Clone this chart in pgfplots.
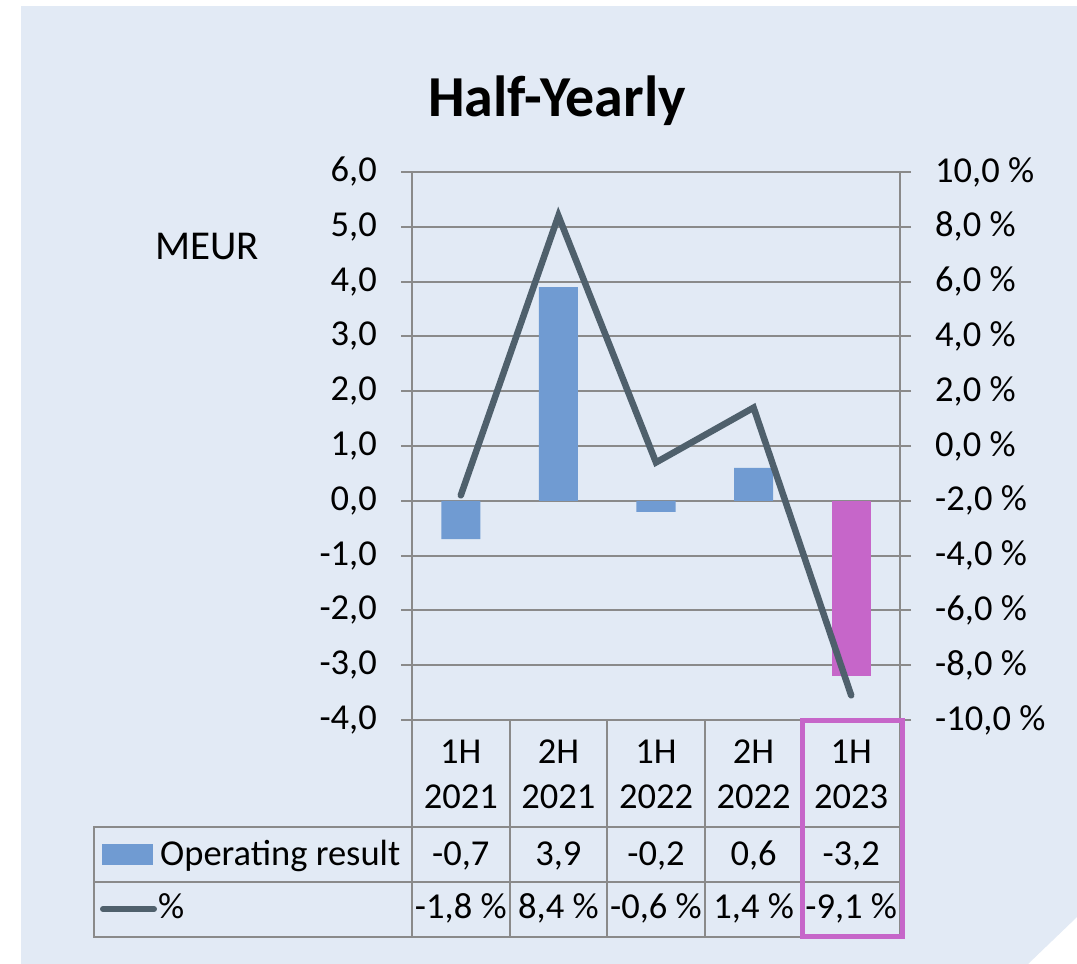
\documentclass[border=0pt]{standalone}
\usepackage{fontspec}
\setmainfont{Carlito}
\usepackage{pgfplots}
\pgfplotsset{compat=1.18}
\definecolor{bgblue}{RGB}{226,234,245}
\definecolor{barblue}{RGB}{112,155,210}
\definecolor{barmag}{RGB}{198,102,201}
\definecolor{linegrey}{RGB}{79,96,108}
\definecolor{gridgrey}{RGB}{138,138,138}
\newcommand{\lbl}{\fontsize{36.5}{45}\selectfont}
\begin{document}
\begin{tikzpicture}
\begin{scope}[x=1pt,y=-1pt]
\useasboundingbox (0,0) rectangle (1077,964);
\fill[white] (0,0) rectangle (1077,964);
\fill[bgblue] (21,6) -- (1077,6) -- (1077,917) -- (1028,964) -- (21,964) -- cycle;
\end{scope}

\begin{axis}[
  at={(412pt,-720pt)}, anchor=south west,
  scale only axis, width=488pt, height=548pt,
  xmin=-0.5, xmax=4.5, ymin=-4, ymax=6,
  ytick={-4,-3,...,6},
  yticklabels={{-4,0},{-3,0},{-2,0},{-1,0},{0,0},{1,0},{2,0},{3,0},{4,0},{5,0},{6,0}},
  xtick={0,1,2,3,4},
  xticklabels={{1H\\2021},{2H\\2021},{1H\\2022},{2H\\2022},{1H\\2023}},
  x tick style={draw=none},
  ytick pos=left, xtick pos=bottom,
  axis line style={gridgrey, line width=2pt},
  ymajorgrids, grid style={gridgrey, line width=2pt},
  tick align=outside, major tick length=11pt,
  y tick style={gridgrey, line width=2pt},
  tick label style={font=\lbl},
  xticklabel style={align=center, inner sep=0pt, anchor=north, yshift=-9pt},
  yticklabel style={inner sep=0pt, anchor=east, xshift=-24pt},
  bar width=0.4,
]
\addplot[ybar, bar shift=0pt, fill=barblue, draw=none]
  coordinates {(0,-0.7) (1,3.9) (2,-0.2) (3,0.6)};
\addplot[ybar, bar shift=0pt, fill=barmag, draw=none]
  coordinates {(4,-3.2)};
\end{axis}

\begin{axis}[
  at={(412pt,-720pt)}, anchor=south west,
  scale only axis, width=488pt, height=548pt,
  xmin=-0.5, xmax=4.5, ymin=-10, ymax=10,
  ytick={-10,-8,...,10},
  yticklabels={{-10,0 \%},{-8,0 \%},{-6,0 \%},{-4,0 \%},{-2,0 \%},{0,0 \%},{2,0 \%},{4,0 \%},{6,0 \%},{8,0 \%},{10,0 \%}},
  axis y line*=right, hide x axis,
  axis line style={gridgrey, line width=2pt},
  tick align=outside, major tick length=11pt,
  y tick style={gridgrey, line width=2pt},
  tick label style={font=\lbl},
  yticklabel style={inner sep=0pt, anchor=west, xshift=24pt},
]
\addplot[linegrey, line width=6.5pt, line cap=round, line join=miter]
  coordinates {(0,-1.8) (1,8.4) (2,-0.6) (3,1.4) (4,-9.1)};
\end{axis}

\begin{scope}[x=1pt,y=-1pt]
% title and unit
\node[anchor=base, inner sep=0pt, font=\fontsize{58}{64}\selectfont\bfseries] at (557,116) {Half-Yearly};
\node[anchor=base west, inner sep=0pt, font=\fontsize{41}{48}\selectfont] at (155,259) {MEUR};
% data table grid
\foreach \k in {0,...,5} {
  \draw[gridgrey, line width=2pt] ({412+97.6*\k},720) -- ({412+97.6*\k},937);
}
\draw[gridgrey, line width=2pt] (94,827) -- (94,937);
\foreach \yy in {827,882,937} {
  \draw[gridgrey, line width=2pt] (93,\yy) -- (901,\yy);
}
% legend keys
\fill[barblue] (102,844) rectangle (153,865);
\draw[linegrey, line width=6pt, line cap=round] (103,909) -- (154,909);
\node[anchor=base west, inner sep=0pt, font=\lbl] at (160,865) {Operating result};
\node[anchor=base west, inner sep=0pt, font=\lbl] at (158,918) {\%};
% table values
\foreach \v [count=\i from 0] in {-0{,}7, 3{,}9, -0{,}2, 0{,}6, -3{,}2} {
  \node[anchor=base, inner sep=0pt, font=\lbl] at ({412+97.6*(\i+0.5)},865) {\v};
}
\foreach \v [count=\i from 0] in {-1{,}8 \%, 8{,}4 \%, -0{,}6 \%, 1{,}4 \%, -9{,}1 \%} {
  \node[anchor=base, inner sep=0pt, font=\lbl] at ({412+97.6*(\i+0.5)},918) {\v};
}
% highlight
\draw[barmag, line width=5pt] (802,720) rectangle (902,936);
\end{scope}
\end{tikzpicture}
\end{document}
